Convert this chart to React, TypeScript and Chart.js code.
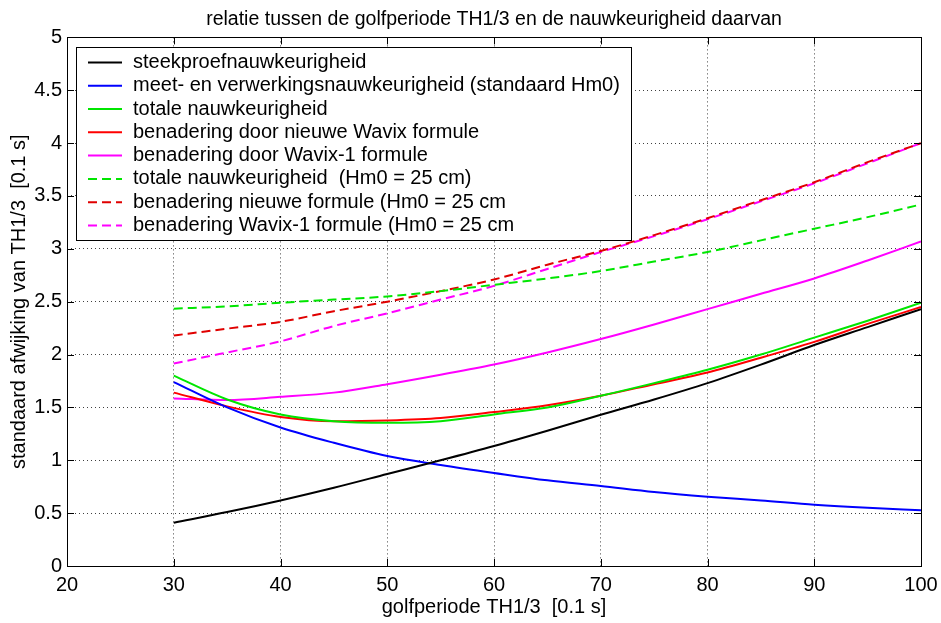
import React, { useEffect, useRef } from "react";
import { Chart, registerables } from "chart.js";

Chart.register(...registerables);

const titleText = "relatie tussen de golfperiode TH1/3 en de nauwkeurigheid daarvan";
const xTitle = "golfperiode TH1/3  [0.1 s]";
const yTitle = "standaard afwijking van TH1/3  [0.1 s]";

const periods = [30, 35, 40, 45, 50, 55, 60, 65, 70, 75, 80, 85, 90, 95, 100];
const steekproef = [0.41, 0.51, 0.62, 0.74, 0.87, 1.0, 1.135, 1.28, 1.43, 1.575, 1.73, 1.905, 2.09, 2.26, 2.43];
const meetVerwerking = [1.74, 1.5, 1.31, 1.165, 1.04, 0.955, 0.88, 0.81, 0.757, 0.7, 0.656, 0.62, 0.58, 0.55, 0.527];
const totaal = [1.8, 1.575, 1.434, 1.37, 1.355, 1.37, 1.434, 1.5, 1.61, 1.73, 1.856, 2.0, 2.16, 2.32, 2.49];
const nieuweWavix = [1.64, 1.51, 1.41, 1.37, 1.377, 1.4, 1.456, 1.52, 1.61, 1.72, 1.83, 1.97, 2.12, 2.29, 2.45];
const wavix1 = [1.585, 1.57, 1.6, 1.64, 1.72, 1.81, 1.906, 2.02, 2.147, 2.285, 2.43, 2.575, 2.72, 2.89, 3.07];
const totaal25 = [2.434, 2.456, 2.49, 2.52, 2.55, 2.6, 2.66, 2.72, 2.79, 2.88, 2.97, 3.08, 3.19, 3.3, 3.42];
const nieuwe25 = [2.18, 2.245, 2.31, 2.41, 2.5, 2.6, 2.71, 2.85, 2.98, 3.13, 3.29, 3.46, 3.63, 3.82, 4.0];
const wavix125 = [1.915, 2.02, 2.125, 2.27, 2.39, 2.52, 2.65, 2.81, 2.97, 3.12, 3.28, 3.45, 3.62, 3.81, 4.0];

const seriesLabels = [
  "steekproefnauwkeurigheid",
  "meet- en verwerkingsnauwkeurigheid (standaard Hm0)",
  "totale nauwkeurigheid",
  "benadering door nieuwe Wavix formule",
  "benadering door Wavix-1 formule",
  "totale nauwkeurigheid  (Hm0 = 25 cm)",
  "benadering nieuwe formule (Hm0 = 25 cm",
  "benadering Wavix-1 formule (Hm0 = 25 cm",
];
const seriesValues = [steekproef, meetVerwerking, totaal, nieuweWavix, wavix1, totaal25, nieuwe25, wavix125];
const seriesColors = ["#000000", "#0000ff", "#00e600", "#ff0000", "#ff00ff", "#00e600", "#e00000", "#ff00ff"];
const seriesDashed = [false, false, false, false, false, true, true, true];

const xMin = 20, xMax = 100, xStep = 10;
const yMin = 0, yMax = 5, yStep = 0.5;

const FONT = "'Liberation Sans', Arial, Helvetica, sans-serif";

const framePlugin = {
  id: "frame",
  afterDraw(chart: any) {
    const { ctx, chartArea: a, scales } = chart;
    const xs = scales.x;
    const ys = scales.y;
    ctx.save();
    ctx.strokeStyle = "#000";
    ctx.lineWidth = 1;
    ctx.setLineDash([]);
    const tl = 7;
    ctx.beginPath();
    for (let v = xMin + xStep; v < xMax; v += xStep) {
      const px = Math.round(xs.getPixelForValue(v)) + 0.5;
      ctx.moveTo(px, a.bottom);
      ctx.lineTo(px, a.bottom - tl);
      ctx.moveTo(px, a.top);
      ctx.lineTo(px, a.top + tl);
    }
    for (let v = yMin + yStep; v < yMax - 1e-9; v += yStep) {
      const py = Math.round(ys.getPixelForValue(v)) + 0.5;
      ctx.moveTo(a.left, py);
      ctx.lineTo(a.left + tl, py);
      ctx.moveTo(a.right, py);
      ctx.lineTo(a.right - tl, py);
    }
    ctx.stroke();
    ctx.strokeRect(Math.round(a.left) + 0.5, Math.round(a.top) + 0.5, Math.round(a.right - a.left), Math.round(a.bottom - a.top));

    // legend box
    const lx = a.left + 9, ly = a.top + 10, lw = 555, lh = 193;
    ctx.fillStyle = "#fff";
    ctx.fillRect(lx, ly, lw, lh);
    ctx.strokeRect(Math.round(lx) + 0.5, Math.round(ly) + 0.5, lw, lh);
    const ds = chart.data.datasets;
    ctx.font = `20px ${FONT}`;
    ctx.textBaseline = "middle";
    ctx.textAlign = "left";
    for (let i = 0; i < ds.length; i++) {
      const cy = ly + 15 + i * 23.3;
      ctx.save();
      ctx.strokeStyle = ds[i].borderColor;
      ctx.lineWidth = 2;
      ctx.setLineDash(ds[i].borderDash || []);
      ctx.beginPath();
      ctx.moveTo(lx + 12, cy);
      ctx.lineTo(lx + 46, cy);
      ctx.stroke();
      ctx.restore();
      ctx.fillStyle = "#000";
      ctx.fillText(ds[i].label, lx + 57, cy);
    }
    ctx.restore();
  },
};

export default function App() {
  const ref = useRef<HTMLCanvasElement | null>(null);
  useEffect(() => {
    document.body.style.margin = "0";
    const canvas = ref.current;
    if (!canvas) return;
    const datasets = seriesLabels.map((label, i) => ({
      label,
      data: periods.map((p, j) => ({ x: p, y: seriesValues[i][j] })),
      borderColor: seriesColors[i],
      backgroundColor: seriesColors[i],
      borderWidth: 2,
      borderDash: seriesDashed[i] ? [9, 5] : [],
      pointRadius: 0,
      fill: false,
      cubicInterpolationMode: "monotone" as const,
    }));
    const chart = new Chart(canvas, {
      type: "line",
      data: { datasets },
      plugins: [framePlugin],
      options: {
        animation: false,
        responsive: false,
        devicePixelRatio: 1,
        layout: { padding: { left: 0, right: 20, top: 0, bottom: 0 } },
        plugins: {
          legend: { display: false },
          tooltip: { enabled: false },
          title: {
            display: true,
            text: titleText,
            fullSize: false,
            color: "#000",
            font: { family: FONT, size: 19.5, weight: "normal" },
            padding: { top: 8, bottom: 6 },
          },
        },
        scales: {
          x: {
            type: "linear",
            min: xMin,
            max: xMax,
            border: { display: false, dash: [1, 3] },
            grid: {
              drawTicks: false,
              lineWidth: 1,
              color: (c: any) => (c.tick && (c.tick.value === xMin || c.tick.value === xMax) ? "rgba(0,0,0,0)" : "rgba(0,0,0,0.75)"),
            },
            ticks: {
              stepSize: xStep,
              color: "#000",
              padding: 7,
              maxRotation: 0,
              font: { family: FONT, size: 20 },
              callback: (v: any) => `${v}`,
            },
            title: {
              display: true,
              text: xTitle,
              color: "#000",
              font: { family: FONT, size: 20 },
              padding: { top: 0, bottom: 4 },
            },
            afterFit: (s: any) => {
              s.height = 57;
              s.paddingRight = 0;
            },
          },
          y: {
            type: "linear",
            min: yMin,
            max: yMax,
            border: { display: false, dash: [1, 3] },
            grid: {
              drawTicks: false,
              lineWidth: 1,
              color: (c: any) => (c.tick && (c.tick.value === yMin || c.tick.value === yMax) ? "rgba(0,0,0,0)" : "rgba(0,0,0,0.75)"),
            },
            ticks: {
              stepSize: yStep,
              color: "#000",
              padding: 5,
              font: { family: FONT, size: 20 },
              callback: (v: any) => `${v}`,
            },
            title: {
              display: true,
              text: yTitle,
              color: "#000",
              font: { family: FONT, size: 20 },
              padding: { top: 7, bottom: 0 },
            },
            afterFit: (s: any) => {
              s.width = 67;
            },
          },
        },
      },
    });
    return () => chart.destroy();
  }, []);
  return (
    <div style={{ position: "fixed", left: 0, top: 0, width: 941, height: 623, background: "#fff" }}>
      <canvas ref={ref} width={941} height={623} />
    </div>
  );
}
